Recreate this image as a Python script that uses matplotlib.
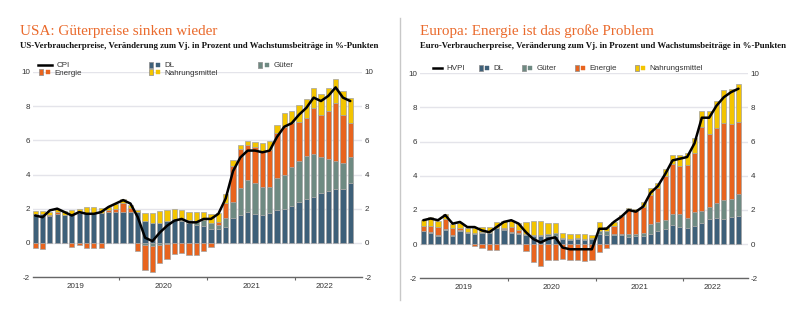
import numpy as np
import matplotlib
matplotlib.use("Agg")
import matplotlib.pyplot as plt
from matplotlib.lines import Line2D
from matplotlib.legend_handler import HandlerTuple

# monthly values, Jan 2019 .. Aug 2022
months = np.arange(44)
year_labels = ["2019", "2020", "2021", "2022"]

# USA: CPI and contributions (pp)
us_cpi = [1.6, 1.5, 1.9, 2.0, 1.8, 1.6, 1.8, 1.7, 1.7, 1.8, 2.1, 2.3,
          2.5, 2.3, 1.5, 0.3, 0.1, 0.6, 1.0, 1.3, 1.4, 1.2, 1.2, 1.4,
          1.4, 1.7, 2.6, 4.2, 5.0, 5.4, 5.4, 5.3, 5.4, 6.2, 6.8, 7.0,
          7.5, 7.9, 8.5, 8.3, 8.6, 9.1, 8.5, 8.3]
us_dl = [1.68, 1.66, 1.6, 1.68, 1.62, 1.68, 1.72, 1.72, 1.72, 1.76, 1.78, 1.78,
         1.78, 1.78, 1.78, 1.28, 1.18, 1.18, 1.3, 1.34, 1.3, 1.15, 1.03, 0.97,
         0.82, 0.83, 0.9, 1.48, 1.65, 1.78, 1.69, 1.65, 1.73, 1.92, 1.98, 2.16,
         2.37, 2.54, 2.7, 2.9, 3.03, 3.15, 3.15, 3.48]
us_gueter = [0, 0, 0, 0, 0, 0, 0, 0, 0, 0, 0, 0,
             0, 0, 0, -0.1, -0.17, -0.1, -0.05, 0.05, 0.06, 0.2, 0.27, 0.37,
             0.33, 0.22, 0.54, 0.92, 1.55, 1.9, 1.79, 1.63, 1.55, 1.85, 1.98, 2.29,
             2.43, 2.56, 2.5, 2.15, 1.87, 1.63, 1.55, 1.52]
us_energie = [-0.32, -0.37, 0.02, 0.14, -0.03, -0.26, -0.14, -0.32, -0.32, -0.3, 0.17, 0.2,
              0.57, 0.25, -0.45, -1.47, -1.56, -1.1, -0.88, -0.66, -0.62, -0.7, -0.72, -0.5,
              -0.25, 0.19, 0.92, 2.1, 2.3, 2.05, 2.12, 2.02, 2.16, 2.64, 2.84, 2.59,
              2.3, 2.23, 2.7, 2.44, 2.82, 3.39, 2.79, 2.0]
us_nahrung = [0.2, 0.22, 0.2, 0.16, 0.22, 0.22, 0.26, 0.36, 0.36, 0.28, 0.14, 0.29,
              0.19, 0.2, 0.16, 0.49, 0.55, 0.7, 0.62, 0.57, 0.56, 0.48, 0.53, 0.49,
              0.54, 0.49, 0.49, 0.35, 0.23, 0.25, 0.33, 0.53, 0.52, 0.49, 0.82, 0.68,
              0.97, 1.07, 1.18, 1.22, 1.32, 1.4, 1.41, 1.5]

# Euro area: HICP and contributions (pp)
ez_hvpi = [1.4, 1.5, 1.4, 1.7, 1.2, 1.3, 1.0, 1.0, 0.8, 0.7, 1.0, 1.3,
           1.4, 1.2, 0.7, 0.3, 0.1, 0.3, 0.4, -0.2, -0.3, -0.3, -0.3, -0.3,
           0.9, 0.9, 1.3, 1.6, 2.0, 1.9, 2.2, 3.0, 3.4, 4.1, 4.9, 5.0,
           5.1, 5.9, 7.4, 7.4, 8.1, 8.6, 8.9, 9.1]
ez_dl = [0.74, 0.66, 0.49, 0.84, 0.49, 0.78, 0.64, 0.62, 0.66, 0.64, 0.92, 0.84,
         0.68, 0.6, 0.55, 0.5, 0.45, 0.5, 0.45, 0.3, 0.25, 0.3, 0.25, 0.3,
         0.6, 0.55, 0.55, 0.55, 0.43, 0.45, 0.5, 0.6, 0.75, 0.88, 1.13, 1.0,
         0.94, 1.07, 1.23, 1.48, 1.52, 1.46, 1.58, 1.62]
ez_gueter = [0.05, 0.05, 0.05, 0.05, 0.05, 0.05, 0.05, 0.06, 0.06, 0.05, 0.04, 0.04,
             0.05, 0.05, 0.05, 0.05, 0.08, 0.1, 0.2, 0.05, 0.05, 0.03, 0.05, 0.03,
             0.15, 0.19, 0.07, 0.07, 0.17, 0.15, 0.15, 0.6, 0.55, 0.56, 0.62, 0.75,
             0.57, 0.8, 0.72, 0.72, 0.91, 1.1, 1.05, 1.31]
ez_energie = [0.25, 0.38, 0.49, 0.57, 0.4, 0.11, 0.03, -0.1, -0.2, -0.33, -0.33, 0.05,
              0.25, 0.2, -0.43, -1.07, -1.27, -0.95, -0.92, -0.85, -0.92, -0.95, -0.97, -0.92,
              -0.45, -0.2, 0.45, 1.04, 1.45, 1.35, 1.53, 1.67, 1.96, 2.56, 2.97, 2.81,
              3.11, 3.47, 4.91, 4.27, 4.39, 4.56, 4.43, 4.2]
ez_nahrung = [0.38, 0.49, 0.33, 0.29, 0.23, 0.29, 0.25, 0.29, 0.31, 0.31, 0.31, 0.45,
              0.38, 0.38, 0.7, 0.81, 0.8, 0.63, 0.58, 0.29, 0.3, 0.27, 0.32, 0.22,
              0.52, 0.26, 0.2, 0.07, 0.09, 0.12, 0.26, 0.39, 0.33, 0.39, 0.48, 0.64,
              0.72, 0.9, 0.96, 1.31, 1.56, 1.88, 2.02, 2.23]

c_dl = "#3e6079"
c_gueter = "#6e8a82"
c_energie = "#e8641e"
c_nahrung = "#f3c400"
c_edge = "#a3a3a3"
c_title = "#ea6a2c"
c_text = "#333333"

plt.rcParams["font.family"] = ["Liberation Sans", "DejaVu Sans"]
plt.rcParams["axes.unicode_minus"] = False

fig = plt.figure(figsize=(8.0, 3.21), dpi=100)
W, H = 800.0, 321.0


def fx(px):
    return px / W


def fy(py):
    return 1 - py / H


def draw_panel(ax, line, parts):
    pos = np.zeros(len(months))
    neg = np.zeros(len(months))
    for vals, col in parts:
        v = np.array(vals, dtype=float)
        bottom = np.where(v >= 0, pos, neg)
        ax.bar(months, v, bottom=bottom, width=0.72, color=col,
               edgecolor=c_edge, linewidth=0.5, zorder=2)
        pos += np.clip(v, 0, None)
        neg += np.clip(v, None, 0)
    ax.plot(months, line, color="black", lw=1.8, solid_joinstyle="round",
            solid_capstyle="round", zorder=3)

    ax.set_ylim(-2, 10)
    ax.set_yticks(range(-2, 11, 2))
    ax.yaxis.grid(True, color="#e4e4ea", lw=1.0, zorder=0)
    ax.set_axisbelow(True)
    for s in ["top", "left", "right"]:
        ax.spines[s].set_visible(False)
    ax.spines["bottom"].set_color("#666666")
    ax.spines["bottom"].set_linewidth(1.0)

    ax.set_xticks([5.5, 17.5, 29.5, 39.5])
    ax.set_xticklabels(year_labels)
    ax.set_xticks([11.5, 23.5, 35.5], minor=True)
    ax.tick_params(axis="x", which="major", length=0, pad=4,
                   labelsize=5.8, labelcolor=c_text)
    ax.tick_params(axis="x", which="minor", length=2.5, width=0.8,
                   color="#666666", direction="out")
    ax.tick_params(axis="y", length=0, labelleft=True, labelright=True,
                   labelsize=5.8, labelcolor=c_text)


def bar_handle(col):
    tall = [(-0.3, -0.5), (0.3, -0.5), (0.3, 0.5), (-0.3, 0.5), (-0.3, -0.5)]
    big = Line2D([], [], ls="", marker=tall, ms=4.8, mfc=col, mec="#8c8c8c", mew=0.5)
    small = Line2D([], [], ls="", marker="s", ms=2.4, mfc=col, mec=col, mew=0.3)
    return (big, small)


def legend_entry(handle, label, x, y, hlen):
    fig.legend([handle], [label], loc="center left",
               bbox_to_anchor=(fx(x), fy(y)), frameon=False,
               fontsize=5.8, labelcolor=c_text, handlelength=hlen,
               handletextpad=0.6, borderpad=0, borderaxespad=0,
               handler_map={tuple: HandlerTuple(ndivide=None, pad=0.3)})


# left panel: USA
ax1 = fig.add_axes([fx(33), fy(277), fx(362 - 33), fy(72) - fy(277)])
draw_panel(ax1, us_cpi, [(us_dl, c_dl), (us_gueter, c_gueter),
                         (us_energie, c_energie), (us_nahrung, c_nahrung)])
ax1.set_xlim(-0.3, 44.6)
ax1.tick_params(axis="y", pad=2)

fig.text(fx(20), fy(31), "USA: Güterpreise sinken wieder", color=c_title,
         fontsize=10.9, family="Liberation Serif", va="center")
fig.text(fx(20), fy(46),
         "US-Verbraucherpreise, Veränderung zum Vj. in Prozent und Wachstumsbeiträge in %-Punkten",
         color="#111111", fontsize=6.3, family="Liberation Serif", weight="bold", va="center")

line_h = Line2D([], [], color="black", lw=1.8)
legend_entry(line_h, "CPI", 38, 65.5, 1.75)
legend_entry(bar_handle(c_dl), "DL", 149, 65.5, 1.35)
legend_entry(bar_handle(c_gueter), "Güter", 258, 65.5, 1.35)
legend_entry(bar_handle(c_energie), "Energie", 39, 73, 1.35)
legend_entry(bar_handle(c_nahrung), "Nahrungsmittel", 149, 73, 1.35)

# right panel: Euro area
ax2 = fig.add_axes([fx(420), fy(278.3), fx(748 - 420), fy(73.3) - fy(278.3)])
draw_panel(ax2, ez_hvpi, [(ez_dl, c_dl), (ez_gueter, c_gueter),
                          (ez_energie, c_energie), (ez_nahrung, c_nahrung)])
ax2.set_xlim(-0.45, 44.3)
ax2.tick_params(axis="y", pad=2)

fig.text(fx(420), fy(31), "Europa: Energie ist das große Problem", color=c_title,
         fontsize=10.9, family="Liberation Serif", va="center")
fig.text(fx(420), fy(46),
         "Euro-Verbraucherpreise, Veränderung zum Vj. in Prozent und Wachstumsbeiträge in %-Punkten",
         color="#111111", fontsize=6.3, family="Liberation Serif", weight="bold", va="center")

legend_entry(line_h, "HVPI", 433, 68.5, 1.1)
legend_entry(bar_handle(c_dl), "DL", 479, 68.5, 1.2)
legend_entry(bar_handle(c_gueter), "Güter", 522, 68.5, 1.2)
legend_entry(bar_handle(c_energie), "Energie", 575, 68.5, 1.2)
legend_entry(bar_handle(c_nahrung), "Nahrungsmittel", 635, 68.5, 1.2)

# separator between the two panels
fig.add_artist(Line2D([fx(400), fx(400)], [fy(18), fy(300)], color="#c8c8c8", lw=1.0))

fig.savefig("out.png", dpi=100)
